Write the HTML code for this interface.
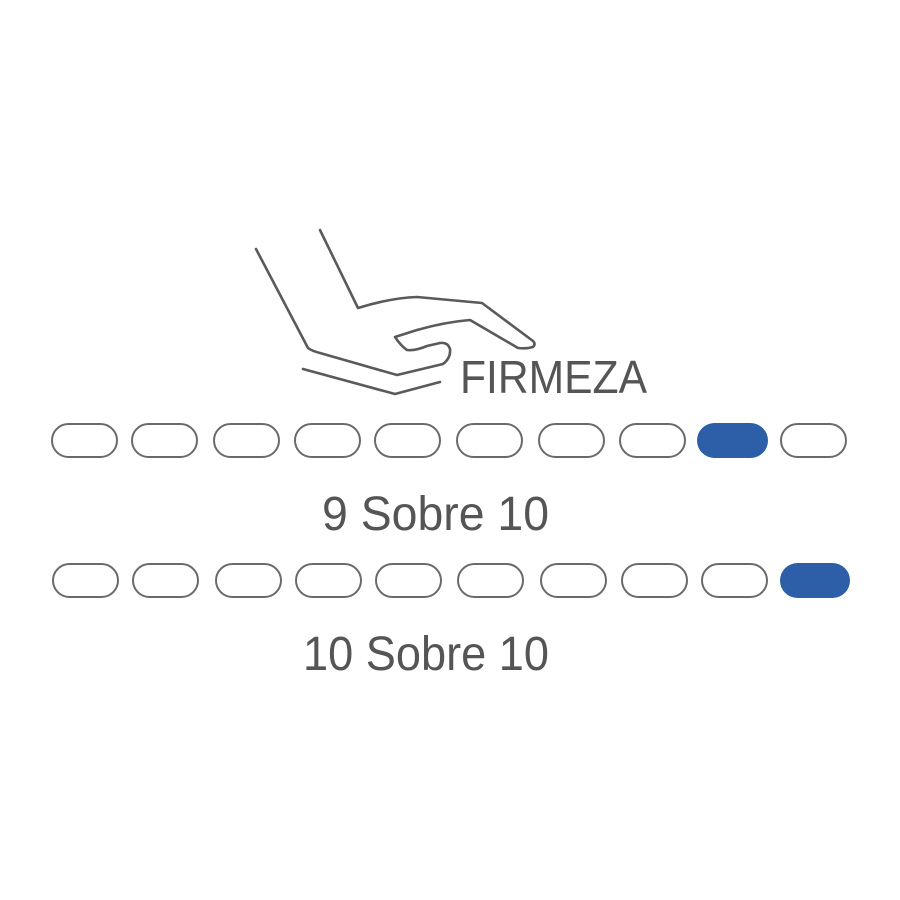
<!DOCTYPE html>
<html><head><meta charset="utf-8"><style>html,body{margin:0;padding:0;background:#fff}svg{display:block}</style></head>
<body>
<svg width="900" height="900" viewBox="0 0 900 900" xmlns="http://www.w3.org/2000/svg">
<rect width="900" height="900" fill="#fff"/>
<g fill="none" stroke="#5a5a5a" stroke-width="2.6" stroke-linejoin="round" stroke-linecap="round">
<path d="M256,249 L308,348 Q312,351 320,353 L397,375 L443,364 Q451,358 450,349 Q448,342 440,343 L427,346 Q415,351 407,350 Q401,346 395,337 L417,330 Q445,322 470,320 L518,348 Q526,349 533,347 Q536,344 533,341 L482,303 L417,297 Q390,298 358,308 L320,230"/>
<path d="M303,369 L395,394 L440,382"/>
</g>
<g fill="#555" font-family="Liberation Sans, sans-serif">
<text x="460" y="393" font-size="46" textLength="187" lengthAdjust="spacingAndGlyphs">FIRMEZA</text>
<text x="322" y="530" font-size="48" textLength="227" lengthAdjust="spacingAndGlyphs">9 Sobre 10</text>
<text x="303" y="670" font-size="48" textLength="246" lengthAdjust="spacingAndGlyphs">10 Sobre 10</text>
</g>
<g fill="none" stroke="#6a6a6a" stroke-width="2">
<rect x="52" y="424" width="65" height="33" rx="16.5"/>
<rect x="132" y="424" width="65" height="33" rx="16.5"/>
<rect x="214" y="424" width="65" height="33" rx="16.5"/>
<rect x="295" y="424" width="65" height="33" rx="16.5"/>
<rect x="375" y="424" width="65" height="33" rx="16.5"/>
<rect x="457" y="424" width="65" height="33" rx="16.5"/>
<rect x="539" y="424" width="65" height="33" rx="16.5"/>
<rect x="620" y="424" width="65" height="33" rx="16.5"/>
<rect x="781" y="424" width="65" height="33" rx="16.5"/>
<rect x="53" y="564" width="65" height="33" rx="16.5"/>
<rect x="133" y="564" width="65" height="33" rx="16.5"/>
<rect x="216" y="564" width="65" height="33" rx="16.5"/>
<rect x="296" y="564" width="65" height="33" rx="16.5"/>
<rect x="376" y="564" width="65" height="33" rx="16.5"/>
<rect x="458" y="564" width="65" height="33" rx="16.5"/>
<rect x="541" y="564" width="65" height="33" rx="16.5"/>
<rect x="622" y="564" width="65" height="33" rx="16.5"/>
<rect x="702" y="564" width="65" height="33" rx="16.5"/>
</g>
<rect x="697" y="423" width="71" height="35" rx="17.5" fill="#2c5fa8"/>
<rect x="780" y="563" width="70" height="35" rx="17.5" fill="#2c5fa8"/>
</svg>
</body></html>
